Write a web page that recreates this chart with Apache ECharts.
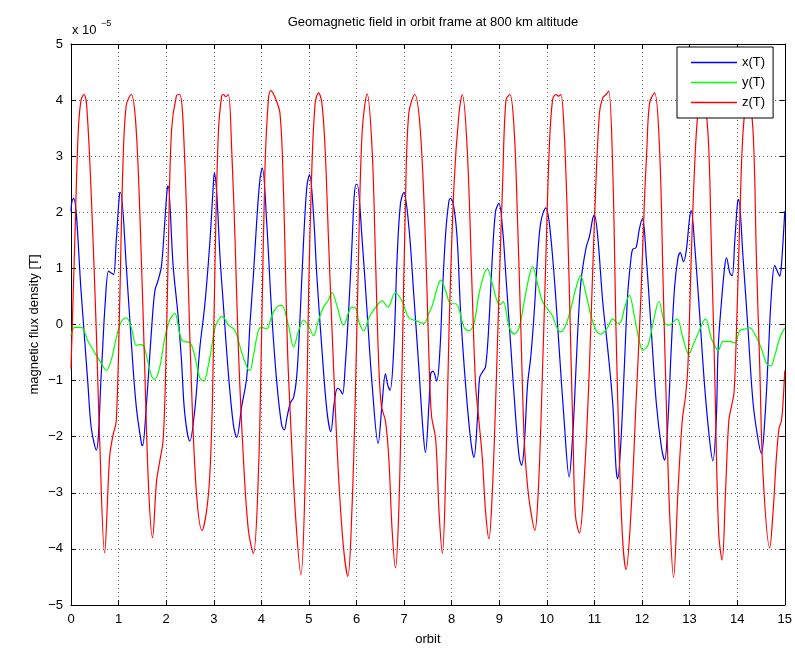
<!DOCTYPE html>
<html><head><meta charset="utf-8">
<script src="https://cdn.jsdelivr.net/npm/echarts@6/dist/echarts.min.js"></script>
<style>html,body{margin:0;padding:0;background:#fff}#c{width:795px;height:657px}</style>
</head><body><div id="c"></div>
<script>
// values in units of 1e-5 T, x in orbits
const xTicks = [0,1,2,3,4,5,6,7,8,9,10,11,12,13,14,15];
const yTicks = [-5,-4,-3,-2,-1,0,1,2,3,4,5];
const seriesNames = ['x(T)','y(T)','z(T)'];

const xSeries = [[0,2.02],[0.021,2.2],[0.056,2.25],[0.217,0.53],[0.357,-1.08],[0.427,-1.85],[0.531,-2.24],[0.636,-0.88],[0.72,0.4],[0.79,0.95],[0.846,0.92],[0.895,0.89],[0.951,1.5],[1.021,2.34],[1.042,2.35],[1.161,1.05],[1.266,-0.3],[1.371,-1.46],[1.476,-2.1],
[1.503,-2.16],[1.587,-1.4],[1.692,-0.1],[1.762,0.6],[1.832,0.79],[1.902,1.05],[1.971,1.83],[2.02,2.4],[2.041,2.47],[2.146,1.05],[2.251,0.15],[2.321,-0.63],[2.391,-1.59],[2.496,-2.08],[2.601,-1.53],[2.706,-0.43],[2.811,0.34],[2.916,1.44],[2.999,2.6],
[3.014,2.7],[3.063,2.34],[3.133,1.18],[3.203,0.34],[3.308,-0.88],[3.413,-1.79],[3.482,-2.01],[3.587,-1.46],[3.692,-0.95],[3.762,0.02],[3.832,0.86],[3.902,1.83],[3.972,2.6],[4.021,2.79],[4.112,1.83],[4.217,0.21],[4.322,-1.01],[4.426,-1.79],[4.482,-1.88],
[4.538,-1.66],[4.608,-1.4],[4.678,-1.3],[4.748,-0.88],[4.818,0.21],[4.888,1.5],[4.958,2.47],[5.013,2.67],[5.097,1.95],[5.167,0.86],[5.272,-0.43],[5.377,-1.53],[5.461,-1.91],[5.531,-1.4],[5.601,-1.14],[5.657,-1.17],[5.706,-1.24],[5.762,-0.75],[5.832,0.21],[5.902,1.37],[5.951,2.28],[5.992,2.5],
[6.014,2.5],[6.119,1.5],[6.224,0.21],[6.329,-1.08],[6.455,-2.12],[6.538,-1.4],[6.608,-0.88],[6.657,-1.08],[6.706,-1.17],[6.783,-0.43],[6.853,1.18],[6.923,2.15],[6.993,2.35],[7.098,1.76],[7.203,0.54],[7.308,-0.75],[7.399,-1.91],[7.448,-2.28],
[7.524,-1.4],[7.559,-0.88],[7.608,-0.83],[7.685,-1.01],[7.755,-0.43],[7.804,0.54],[7.874,1.63],[7.944,2.21],[7.979,2.25],[8.048,2.08],[8.118,1.5],[8.188,0.21],[8.293,-1.08],[8.398,-2.05],[8.468,-2.37],[8.538,-1.72],[8.587,-0.95],[8.643,-0.85],[8.713,-0.75],[8.783,0.02],[8.853,1.18],[8.923,2.02],[8.992,2.16],
[9.07,1.7],[9.14,0.86],[9.245,-0.43],[9.35,-1.72],[9.42,-2.37],[9.469,-2.51],[9.524,-2.17],[9.594,-1.08],[9.664,-0.56],[9.734,0.21],[9.804,1.18],[9.874,1.83],[9.979,2.08],[10.049,1.83],[10.154,0.86],[10.259,-0.43],[10.364,-1.72],[10.469,-2.72],[10.538,-2.05],
[10.58,-1.4],[10.65,-0.11],[10.72,0.79],[10.825,1.37],[10.895,1.57],[10.965,1.89],[10.999,1.95],[11.069,1.57],[11.174,0.41],[11.279,-0.43],[11.384,-1.4],[11.454,-2.56],[11.489,-2.75],[11.559,-2.05],[11.629,-0.75],[11.699,0.54],[11.769,1.18],[11.804,1.34],[11.874,1.37],[11.944,1.7],[12.01,1.89],
[12.09,1.18],[12.195,-0.11],[12.3,-1.4],[12.405,-2.17],[12.475,-2.42],[12.545,-1.72],[12.614,-0.43],[12.684,0.66],[12.754,1.18],[12.803,1.28],[12.873,1.12],[12.929,1.31],[12.999,1.89],[13.034,2.03],[13.104,1.44],[13.209,0.21],[13.314,-1.08],[13.419,-2.05],[13.489,-2.43],[13.559,-1.72],
[13.6,-0.43],[13.67,0.41],[13.74,1.05],[13.775,1.19],[13.845,0.92],[13.894,0.87],[13.95,1.5],[14.005,2.15],[14.03,2.23],[14.124,1.18],[14.229,-0.11],[14.334,-1.4],[14.439,-2.05],[14.509,-2.3],[14.579,-1.72],[14.649,-0.63],[14.719,0.54],[14.789,1.05],[14.859,0.92],[14.894,0.86],[14.929,1.05],[15.0,2.02]];

const ySeries = [[0,-0.2],[0.077,-0.05],[0.217,-0.05],[0.357,-0.3],[0.497,-0.5],[0.636,-0.69],[0.741,-0.82],[0.846,-0.63],[0.951,-0.24],[1.056,0.05],[1.161,0.12],[1.266,-0.05],[1.371,-0.37],[1.447,-0.36],
[1.517,-0.37],[1.587,-0.56],[1.692,-0.92],[1.762,-0.98],[1.867,-0.75],[1.971,-0.24],[2.076,0.08],[2.181,0.2],[2.286,-0.17],[2.356,-0.3],[2.496,-0.32],[2.601,-0.56],[2.706,-0.95],[2.79,-1.01],[2.881,-0.75],[2.951,-0.43],
[3.028,-0.05],[3.133,0.12],[3.182,0.14],[3.308,-0.01],[3.448,-0.11],[3.587,-0.5],[3.713,-0.79],[3.762,-0.82],[3.832,-0.56],[3.937,-0.11],[4.007,-0.05],[4.112,-0.08],[4.217,0.15],[4.322,0.31],[4.426,0.34],
[4.573,-0.03],[4.678,-0.4],[4.783,-0.11],[4.888,0.08],[4.992,-0.03],[5.097,-0.2],[5.202,0.08],[5.307,0.31],[5.412,0.44],[5.482,0.57],[5.587,0.34],[5.692,0.02],[5.727,-0.01],[5.832,0.21],[5.902,0.31],[5.992,0.28],
[6.049,0.05],[6.154,-0.11],[6.259,0.12],[6.364,0.26],[6.538,0.42],[6.657,0.31],[6.818,0.57],[6.958,0.41],[7.098,0.12],[7.238,0.07],[7.413,0.02],[7.52,0.2],
[7.594,0.34],[7.699,0.66],[7.769,0.79],[7.874,0.6],[7.979,0.37],[8.083,0.37],[8.153,0.28],[8.258,-0.05],[8.363,-0.11],[8.468,0.02],[8.573,0.54],[8.678,0.89],[8.748,0.99],[8.853,0.73],[8.958,0.41],[9.027,0.36],[9.083,0.41],
[9.21,-0.05],[9.315,-0.17],[9.42,-0.05],[9.524,0.41],[9.629,0.86],[9.699,1.03],[9.804,0.73],[9.909,0.41],[10.014,0.28],[10.119,0.15],[10.224,-0.08],[10.294,-0.13],[10.399,-0.01],[10.503,0.28],
[10.615,0.66],[10.706,0.87],[10.825,0.53],[10.93,0.15],[11.035,-0.11],[11.14,-0.17],[11.279,-0.05],[11.384,0.1],[11.489,0.02],[11.559,0.05],[11.629,0.28],[11.734,0.52],[11.839,0.15],[11.944,-0.3],[12.013,-0.46],
[12.125,-0.37],[12.23,0.02],[12.356,0.41],[12.475,0.02],[12.565,-0.01],[12.733,0.1],[12.859,-0.24],[12.985,-0.53],[13.069,-0.37],[13.174,-0.17],[13.335,0.1],[13.454,-0.24],[13.559,-0.43],
[13.6,-0.46],[13.705,-0.3],[13.845,-0.3],[13.95,-0.33],[14.054,-0.11],[14.159,-0.08],[14.264,-0.06],[14.369,-0.17],[14.509,-0.43],[14.614,-0.69],[14.705,-0.74],[14.789,-0.56],[14.894,-0.24],[15.0,-0.06]];

const zSeries = [[0,-0.79],[0.08,1.5],[0.15,3.4],[0.21,4.0],[0.273,4.1],[0.33,3.9],[0.427,2.28],[0.531,-0.1],[0.6,-2.0],[0.706,-4.07],[0.811,-2.37],[0.881,-1.98],[0.951,-1.72],[1.021,0.3],[1.09,2.8],[1.16,3.9],[1.266,4.1],
[1.36,3.6],[1.45,1.9],[1.55,-0.8],[1.63,-2.9],[1.713,-3.8],[1.797,-2.8],[1.867,-2.43],[1.937,-2.05],[1.992,-0.75],[2.041,1.18],[2.111,3.44],[2.216,4.08],[2.286,4.1],[2.391,2.92],[2.461,0.86],[2.531,-1.08],[2.636,-3.0],[2.755,-3.67],[2.846,-3.34],[2.916,-2.7],[2.971,-1.4],
[3.028,1.18],[3.098,3.44],[3.168,4.08],[3.203,4.1],[3.252,4.06],[3.308,4.1],[3.378,3.1],[3.448,1.5],[3.517,-0.43],[3.622,-2.37],[3.727,-3.66],[3.832,-4.08],[3.937,-2.69],[4.007,-0.11],[4.077,2.79],[4.147,4.0],[4.196,4.17],[4.287,4.05],[4.392,3.76],[4.462,2.47],[4.51,0.86],[4.552,-0.5],
[4.608,-1.6],[4.713,-3.34],[4.832,-4.46],[4.923,-2.69],[4.993,0.54],[5.062,2.79],[5.132,3.95],[5.202,4.13],[5.272,3.95],[5.342,3.1],[5.412,1.5],[5.517,-0.75],[5.622,-2.69],[5.727,-3.98],[5.818,-4.49],[5.902,-3.34],[5.972,-1.4],[6.041,1.18],
[6.119,3.44],[6.224,4.11],[6.329,3.1],[6.399,1.18],[6.469,-0.75],[6.524,-1.46],[6.608,-1.72],[6.678,-2.37],[6.748,-3.66],[6.818,-4.34],[6.888,-3.34],[6.958,-0.75],[7.028,2.15],[7.098,3.76],[7.224,4.1],[7.343,3.44],[7.448,1.5],[7.517,-0.43],[7.573,-1.6],
[7.664,-2.05],[7.734,-3.34],[7.804,-4.08],[7.874,-2.69],[7.944,-0.11],[8.048,2.47],[8.153,3.76],[8.223,4.1],[8.328,3.1],[8.433,0.54],[8.503,-1.08],[8.573,-1.72],[8.643,-2.37],[8.713,-3.34],[8.783,-3.82],[8.853,-3.0],[8.923,-1.4],[8.993,0.54],
[9.07,2.5],[9.14,4.0],[9.224,4.1],[9.315,3.44],[9.385,1.83],[9.455,-0.11],[9.524,-2.05],[9.594,-2.88],[9.664,-3.34],[9.748,-3.67],[9.818,-3.0],[9.888,-1.4],[9.979,1.18],[10.049,3.1],[10.119,4.0],[10.189,4.1],[10.245,4.07],[10.294,4.1],[10.364,3.44],[10.434,1.83],[10.503,-0.43],[10.552,-2.05],
[10.6,-3.4],[10.685,-3.72],[10.79,-2.69],[10.895,-0.75],[10.999,1.83],[11.104,3.76],[11.174,4.04],[11.244,4.1],[11.3,4.16],[11.384,2.79],[11.454,-0.11],[11.524,-2.37],[11.594,-3.85],[11.664,-4.37],[11.769,-3.34],[11.874,-1.4],[11.979,0.54],[12.048,2.15],
[12.1,3.1],[12.16,3.95],[12.265,4.13],[12.37,3.1],[12.44,0.86],[12.51,-1.4],[12.579,-3.34],[12.663,-4.51],[12.754,-3.0],[12.845,-1.72],[12.915,-1.27],[12.964,-0.75],[13.034,1.18],[13.104,2.79],[13.174,3.76],[13.265,4.1],[13.384,3.44],[13.454,1.5],[13.524,-0.75],
[13.61,-3.7],[13.684,-4.2],[13.754,-3.0],[13.824,-1.72],[13.894,-1.4],[13.936,-1.2],[13.985,-0.11],[14.054,1.83],[14.124,3.44],[14.229,4.1],[14.334,3.44],[14.404,1.18],[14.474,-0.75],[14.544,-2.69],[14.684,-3.98],[14.754,-3.34],[14.824,-2.37],[14.88,-1.85],[14.929,-1.72],[14.963,-1.4],[15.0,-0.82]];

const colors = ['#0000ff','#00ff00','#ff0000'];
const font = 'Liberation Sans, Helvetica, Arial, sans-serif';
const chart = echarts.init(document.getElementById('c'));
const mk = (name, data, color) => ({
  name, type:'line', data, showSymbol:false, symbol:'none', smooth:0.35,
  lineStyle:{color, width:1.2}, itemStyle:{color}, animation:false, z:2
});
const minus = v => String(v).replace('-', '\u2212');
const tickStyle = {show:true, inside:true, length:5, lineStyle:{color:'#000'}};
const lineStyleAx = {show:true, onZero:false, lineStyle:{color:'#000', width:1}};
const gridLine = {show:true, lineStyle:{color:'#666', type:[1,3], width:1}};
chart.setOption({
  animation:false,
  title:{text:'Geomagnetic field in orbit frame at 800 km altitude', left:428, textAlign:'center', top:11,
    textStyle:{fontFamily:font, fontSize:13, fontWeight:'normal', color:'#000'}},
  grid:{left:71, right:9, top:44, bottom:52},
  legend:{data:seriesNames, orient:'vertical', left:677, top:47, itemWidth:46, itemHeight:1.5, itemGap:5,
    icon:'rect', padding:[8,8,8,14], backgroundColor:'#fff', borderColor:'#000', borderWidth:1, z:10,
    textStyle:{fontFamily:font, fontSize:13, color:'#000', lineHeight:15}},
  xAxis:[
    {type:'value', min:xTicks[0], max:xTicks[xTicks.length-1], interval:1, name:'orbit', nameLocation:'middle', nameGap:28,
      nameTextStyle:{fontFamily:font, fontSize:13, color:'#000'},
      axisLabel:{fontFamily:font, fontSize:13, color:'#000', margin:8, formatter:minus},
      axisLine:lineStyleAx, axisTick:tickStyle, splitLine:gridLine},
    {type:'value', position:'top', min:0, max:15, interval:1, axisLabel:{show:false},
      axisLine:lineStyleAx, axisTick:tickStyle, splitLine:{show:false}}
  ],
  yAxis:[
    {type:'value', min:yTicks[0], max:yTicks[yTicks.length-1], interval:1, name:'magnetic flux density [T]', nameLocation:'middle', nameGap:30,
      nameMoveOverlap:false,
      nameTextStyle:{fontFamily:font, fontSize:13, color:'#000'},
      axisLabel:{fontFamily:font, fontSize:13, color:'#000', margin:8, formatter:minus},
      axisLine:lineStyleAx, axisTick:tickStyle, splitLine:gridLine},
    {type:'value', position:'right', min:-5, max:5, interval:1, axisLabel:{show:false},
      axisLine:lineStyleAx, axisTick:tickStyle, splitLine:{show:false}}
  ],
  graphic:[
    {type:'text', left:72, top:24, style:{text:'x 10', font:'13px '+font, fill:'#000'}},
    {type:'text', left:101, top:19, style:{text:'\u22125', font:'9px '+font, fill:'#000'}}
  ],
  series:[mk(seriesNames[0], xSeries, colors[0]), mk(seriesNames[1], ySeries, colors[1]), mk(seriesNames[2], zSeries, colors[2])]
});
</script></body></html>
